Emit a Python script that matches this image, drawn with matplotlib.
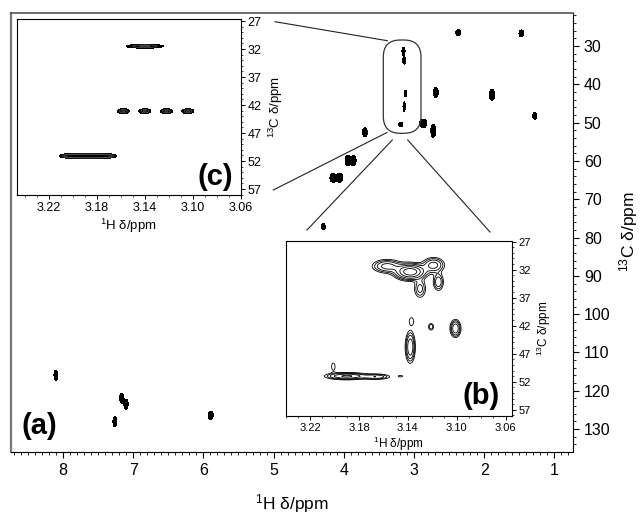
import matplotlib
matplotlib.use("Agg")
import matplotlib.pyplot as plt
import numpy as np
from matplotlib.ticker import MultipleLocator
from matplotlib.patches import FancyBboxPatch
from matplotlib.lines import Line2D

plt.rcParams['font.family'] = ['Liberation Sans', 'DejaVu Sans']
plt.rcParams['mathtext.fontset'] = 'custom'
plt.rcParams['mathtext.rm'] = 'Liberation Sans'
plt.rcParams['mathtext.default'] = 'regular'

# (a) full 1H-13C spectrum: peak centres and half widths (ppm)
main_h = [2.37, 1.47, 3.15, 3.14, 3.12, 3.14, 3.19, 2.87, 2.725, 2.69, 1.89, 1.28,
          3.70, 3.945, 3.86, 4.155, 4.055, 4.29, 8.10, 7.165, 7.10, 7.26, 5.895]
main_c = [26.5, 26.7, 31.3, 33.8, 42.4, 45.8, 50.5, 50.2, 52.1, 42.1, 42.7, 48.2,
          52.5, 59.9, 59.9, 64.4, 64.4, 77.2, 115.9, 121.9, 123.5, 128.1, 126.4]
main_hw = [0.035, 0.035, 0.022, 0.02, 0.017, 0.017, 0.032, 0.05, 0.035, 0.035, 0.038, 0.028,
           0.035, 0.035, 0.035, 0.042, 0.042, 0.028, 0.028, 0.028, 0.028, 0.028, 0.035]
main_cw = [0.8, 0.9, 1.0, 0.9, 0.8, 1.2, 0.55, 1.15, 1.7, 1.3, 1.45, 0.9,
           1.15, 1.35, 1.35, 1.15, 1.15, 0.8, 1.3, 1.3, 1.3, 1.3, 1.05]

# (c) simulated region
c_h = [3.14, 3.158, 3.14, 3.122, 3.104, 3.204, 3.193, 3.182, 3.171]
c_c = [31.5, 43.1, 43.1, 43.1, 43.1, 51.1, 51.1, 51.1, 51.1]
c_hw = [0.0155, 0.005, 0.005, 0.005, 0.005, 0.0075, 0.0075, 0.0075, 0.0075]
c_cw = [0.36, 0.45, 0.45, 0.45, 0.45, 0.36, 0.36, 0.36, 0.36]

# (b) experimental region
b_h = [3.138, 3.157, 3.119, 3.115, 3.130, 3.137, 3.138, 3.121, 3.101,
       3.190, 3.166, 3.201, 3.146]
b_c = [32.4, 31.4, 31.2, 34.2, 35.4, 41.2, 45.8, 42.2, 42.5,
       51.0, 51.1, 49.3, 51.0]
b_hw = [0.008, 0.008, 0.006, 0.003, 0.0035, 0.0022, 0.0026, 0.0018, 0.0028,
        0.011, 0.008, 0.0025, 0.0022]
b_cw = [0.9, 0.8, 0.9, 1.1, 1.2, 0.8, 1.8, 0.5, 1.0,
        0.4, 0.35, 1.1, 0.15]
b_amp = [1.0, 0.4, 0.4, 0.3, 0.25, 0.12, 0.5, 0.2, 0.5,
         0.55, 0.3, 0.1, 0.12]
b_levels = [0.08, 0.13, 0.2, 0.32, 0.5, 0.75]


def spectrum(hx, cy, h0, c0, hw, cw, amp=None):
    H, C = np.meshgrid(hx, cy)
    z = np.zeros_like(H)
    if amp is None:
        amp = [1.0] * len(h0)
    for h, c, w1, w2, a in zip(h0, c0, hw, cw, amp):
        s1 = w1 / 1.1774
        s2 = w2 / 1.1774
        z += a * np.exp(-0.5 * ((H - h) / s1) ** 2 - 0.5 * ((C - c) / s2) ** 2)
    return H, C, z


fig = plt.figure(figsize=(6.44, 5.17), dpi=100)

# main panel
ax = fig.add_axes([0.01708, 0.1263, 0.8722, 0.8495])
H, C, z = spectrum(np.linspace(0.7, 8.8, 2000), np.linspace(20, 137, 1200),
                   main_h, main_c, main_hw, main_cw)
ax.contourf(H, C, z, levels=[0.5, 100], colors='black')
ax.set_xlim(8.74, 0.74)
ax.set_ylim(135.9, 21.25)
ax.yaxis.tick_right()
ax.yaxis.set_label_position('right')
ax.set_xticks(range(1, 9))
ax.set_yticks(range(30, 131, 10))
ax.xaxis.set_minor_locator(MultipleLocator(0.1))
ax.yaxis.set_minor_locator(MultipleLocator(2))
ax.tick_params(which='major', length=4, width=0.8, labelsize=11.5, pad=4)
ax.tick_params(which='minor', length=2, width=0.6)
ax.set_xlabel('$^{1}$H δ/ppm', fontsize=12.5, labelpad=10)
ax.set_ylabel('$^{13}$C δ/ppm', fontsize=12.5, labelpad=5)
ax.spines['left'].set_color('#777777')
ax.spines['left'].set_linewidth(1.6)
ax.spines['top'].set_color('#555555')
ax.spines['top'].set_linewidth(1.2)
ax.text(0.019, 0.0585, '(a)', transform=ax.transAxes, fontsize=21,
        fontweight='bold', ha='left', va='center')

# inset (c)
axc = fig.add_axes([0.02593, 0.6228, 0.3478, 0.3404])
H, C, z = spectrum(np.linspace(3.05, 3.26, 900), np.linspace(26, 59, 700),
                   c_h, c_c, c_hw, c_cw)
axc.contourf(H, C, z, levels=[0.5, 100], colors='black')
axc.contour(H, C, z, levels=[0.75, 0.95], colors='#666666', linewidths=0.4)
axc.set_xlim(3.247, 3.06)
axc.set_ylim(58.07, 26.64)
axc.yaxis.tick_right()
axc.yaxis.set_label_position('right')
axc.set_xticks([3.22, 3.18, 3.14, 3.10, 3.06])
axc.set_xticklabels(['3.22', '3.18', '3.14', '3.10', '3.06'])
axc.set_yticks(range(27, 58, 5))
axc.xaxis.set_minor_locator(MultipleLocator(0.01))
axc.yaxis.set_minor_locator(MultipleLocator(1))
axc.tick_params(which='major', length=3, width=0.7, labelsize=9, pad=2)
axc.tick_params(which='minor', length=1.5, width=0.5)
axc.set_xlabel('$^{1}$H δ/ppm', fontsize=9.5, labelpad=2)
axc.set_ylabel('$^{13}$C δ/ppm', fontsize=9.5, labelpad=4)
axc.text(0.966, 0.102, '(c)', transform=axc.transAxes, fontsize=21,
         fontweight='bold', ha='right', va='center')

# inset (b)
axb = fig.add_axes([0.4436, 0.1954, 0.3509, 0.3385])
H, C, z = spectrum(np.linspace(3.05, 3.25, 900), np.linspace(26, 59, 700),
                   b_h, b_c, b_hw, b_cw, b_amp)
axb.contour(H, C, z, levels=b_levels, colors='black', linewidths=0.6)
axb.set_xlim(3.240, 3.055)
axb.set_ylim(58.1, 26.9)
axb.yaxis.tick_right()
axb.yaxis.set_label_position('right')
axb.set_xticks([3.22, 3.18, 3.14, 3.10, 3.06])
axb.set_xticklabels(['3.22', '3.18', '3.14', '3.10', '3.06'])
axb.set_yticks(range(27, 58, 5))
axb.xaxis.set_minor_locator(MultipleLocator(0.01))
axb.yaxis.set_minor_locator(MultipleLocator(1))
axb.tick_params(which='major', length=3, width=0.7, labelsize=8, pad=2)
axb.tick_params(which='minor', length=1.5, width=0.5)
axb.set_xlabel('$^{1}$H δ/ppm', fontsize=8.5, labelpad=1)
axb.set_ylabel('$^{13}$C δ/ppm', fontsize=8.5, labelpad=3)
axb.text(0.948, 0.114, '(b)', transform=axb.transAxes, fontsize=21,
         fontweight='bold', ha='right', va='center')

# zoom outline and guide lines (pixel positions / 100 -> inches)
fh = 5.17
box = FancyBboxPatch((3.833, fh - 1.333), 0.377, 0.933,
                     boxstyle='round,pad=0,rounding_size=0.17',
                     transform=fig.dpi_scale_trans, fill=False,
                     edgecolor='#333333', linewidth=0.9)
fig.add_artist(box)
guides = [((2.75, 0.217), (3.873, 0.407)),
          ((2.733, 1.90), (3.87, 1.325)),
          ((3.923, 1.40), (3.07, 2.30)),
          ((4.077, 1.40), (4.90, 2.32))]
for (x0, y0), (x1, y1) in guides:
    fig.add_artist(Line2D([x0, x1], [fh - y0, fh - y1], transform=fig.dpi_scale_trans,
                          color='#222222', linewidth=0.8))

fig.savefig('out.png', dpi=100)
